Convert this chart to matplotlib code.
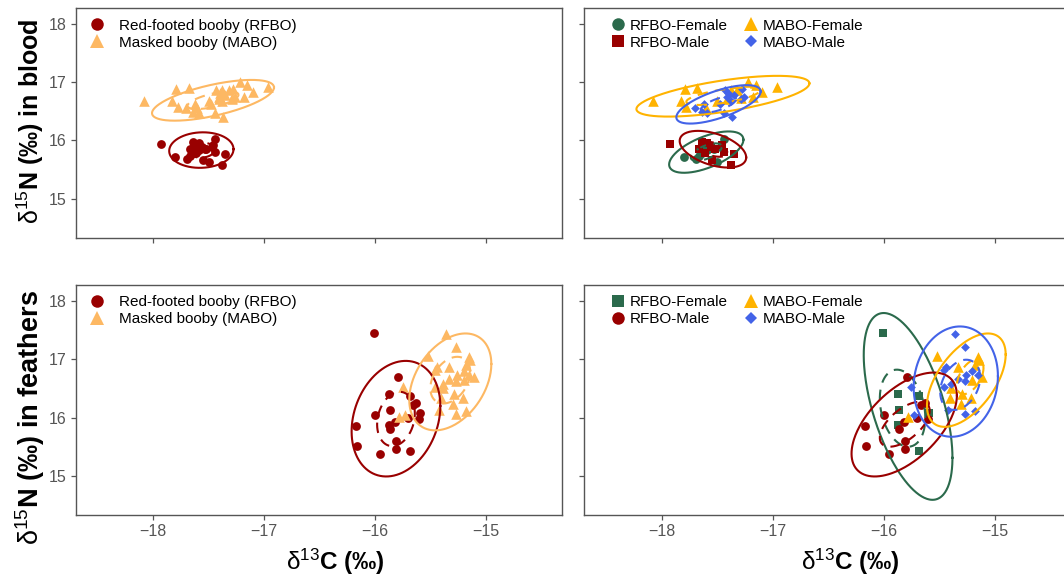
import numpy as np
import matplotlib
matplotlib.use("Agg")
import matplotlib.pyplot as plt
from matplotlib.lines import Line2D

plt.rcParams['font.family'] = ['Liberation Sans', 'DejaVu Sans']
plt.rcParams['mathtext.fontset'] = 'custom'
plt.rcParams['mathtext.rm'] = 'Liberation Sans'
plt.rcParams['mathtext.bf'] = 'Liberation Sans:bold'
plt.rcParams['mathtext.it'] = 'Liberation Sans:italic'

# ---------------- data: blood ----------------
blood_rfbo_f_x = [-17.80, -17.69, -17.67, -17.62, -17.59, -17.50, -17.47, -17.44, -17.53, -17.64]
blood_rfbo_f_y = [15.72, 15.68, 15.73, 15.90, 15.84, 15.63, 15.89, 16.03, 15.86, 15.78]
blood_rfbo_m_x = [-17.93, -17.67, -17.64, -17.59, -17.56, -17.52, -17.44, -17.35, -17.38, -17.55, -17.61, -17.46]
blood_rfbo_m_y = [15.94, 15.86, 15.98, 15.95, 15.89, 15.86, 15.81, 15.77, 15.58, 15.66, 15.78, 15.92]
blood_mabo_f_x = [-18.08, -17.83, -17.79, -17.68, -17.78, -17.50, -17.41, -17.32, -17.22, -17.15, -17.10, -16.96, -17.18, -17.29, -17.38, -17.60]
blood_mabo_f_y = [16.67, 16.67, 16.88, 16.90, 16.58, 16.68, 16.71, 16.87, 17.00, 16.96, 16.84, 16.92, 16.74, 16.73, 16.86, 16.55]
blood_mabo_m_x = [-17.70, -17.62, -17.64, -17.59, -17.48, -17.44, -17.41, -17.37, -17.38, -17.43, -17.35, -17.28, -17.29, -17.26, -17.40]
blood_mabo_m_y = [16.55, 16.62, 16.49, 16.48, 16.63, 16.47, 16.74, 16.41, 16.67, 16.87, 16.78, 16.88, 16.71, 16.74, 16.81]

# ---------------- data: feathers ----------------
feath_rfbo_f_x = [-16.01, -15.87, -15.68, -15.86, -15.59, -15.87, -15.68]
feath_rfbo_f_y = [17.44, 16.40, 16.37, 16.13, 16.07, 15.87, 15.43]
feath_rfbo_m_x = [-15.79, -16.00, -16.17, -16.16, -15.95, -15.86, -15.81, -15.81, -15.82, -15.70, -15.66, -15.63, -15.60]
feath_rfbo_m_y = [16.70, 16.04, 15.85, 15.51, 15.37, 15.81, 15.59, 15.46, 15.93, 15.99, 16.21, 16.25, 15.98]
feath_mabo_f_x = [-15.52, -15.33, -15.15, -15.14, -15.18, -15.11, -15.20, -15.39, -15.40, -15.29, -15.21, -15.30, -15.78]
feath_mabo_f_y = [17.06, 16.86, 17.03, 16.99, 16.90, 16.70, 16.64, 16.50, 16.33, 16.41, 16.33, 16.23, 16.01]
feath_mabo_m_x = [-15.36, -15.27, -15.46, -15.44, -15.33, -15.26, -15.20, -15.15, -15.27, -15.39, -15.46, -15.75, -15.73, -15.42, -15.27, -15.18]
feath_mabo_m_y = [17.43, 17.20, 16.81, 16.86, 16.66, 16.73, 16.79, 16.72, 16.63, 16.57, 16.53, 16.52, 16.05, 16.13, 16.06, 16.11]

# ---------------- ellipses (cx, cy, half-width x, half-height y, correlation) ----------------
ell_blood_species_solid = {'RFBO': (-17.565, 15.835, 0.29, 0.305, 0.05), 'MABO': (-17.46, 16.69, 0.55, 0.35, 0.63)}
ell_blood_species_dash = {'RFBO': (-17.565, 15.835, 0.12, 0.13, 0.05), 'MABO': (-17.46, 16.69, 0.23, 0.15, 0.63)}
ell_blood_sex_solid = {'RFBO-Female': (-17.60, 15.80, 0.335, 0.355, 0.60), 'RFBO-Male': (-17.54, 15.85, 0.30, 0.315, -0.45),
                       'MABO-Female': (-17.45, 16.76, 0.78, 0.35, 0.63), 'MABO-Male': (-17.49, 16.62, 0.38, 0.33, 0.67)}
ell_blood_sex_dash = {'RFBO-Female': (-17.60, 15.80, 0.14, 0.15, 0.60), 'RFBO-Male': (-17.54, 15.85, 0.13, 0.13, -0.45),
                      'MABO-Female': (-17.45, 16.76, 0.33, 0.15, 0.63), 'MABO-Male': (-17.49, 16.62, 0.16, 0.14, 0.67)}
ell_feath_species_solid = {'RFBO': (-15.81, 15.98, 0.40, 0.99, 0.22), 'MABO': (-15.32, 16.61, 0.37, 0.83, 0.37)}
ell_feath_species_dash = {'RFBO': (-15.81, 15.975, 0.17, 0.465, 0.20), 'MABO': (-15.32, 16.64, 0.18, 0.40, 0.35)}
ell_feath_sex_solid = {'RFBO-Female': (-15.78, 16.19, 0.40, 1.60, -0.55), 'RFBO-Male': (-15.815, 15.88, 0.475, 0.89, 0.56),
                       'MABO-Female': (-15.255, 16.64, 0.355, 0.80, 0.55), 'MABO-Male': (-15.35, 16.615, 0.38, 0.945, 0.10)}
ell_feath_sex_dash = {'RFBO-Female': (-15.83, 16.16, 0.205, 0.66, -0.25), 'RFBO-Male': (-15.81, 15.885, 0.225, 0.385, 0.60),
                      'MABO-Female': (-15.22, 16.70, 0.12, 0.30, 0.50), 'MABO-Male': (-15.31, 16.56, 0.18, 0.43, 0.30)}

x_ticks = [-18, -17, -16, -15]
y_ticks = [15, 16, 17, 18]
x_tick_labels = ['\u221218', '\u221217', '\u221216', '\u221215']
y_tick_labels = ['15', '16', '17', '18']
xlim = (-18.70, -14.31)
ylim = (14.33, 18.27)

# ---------------- styles ----------------
C_RED = '#990000'
C_LORANGE = '#FDB863'
C_GREEN = '#2B6A4C'
C_GOLD = '#FFB300'
C_BLUE = '#4363E8'

W, H = 1064, 577
fig = plt.figure(figsize=(W / 100, H / 100), dpi=100)


def pos(l, t, r, b):
    return [l / W, 1 - b / H, (r - l) / W, (b - t) / H]


def ellipse_xy(p):
    cx, cy, hx, hy, r = p
    t = np.linspace(0, 2 * np.pi, 300)
    return cx + hx * np.cos(t), cy + hy * (r * np.cos(t) + np.sqrt(1 - r * r) * np.sin(t))


def style_axes(ax, xlabels, ylabels):
    ax.set_xlim(*xlim)
    ax.set_ylim(*ylim)
    ax.set_xticks(x_ticks)
    ax.set_yticks(y_ticks)
    ax.set_xticklabels(x_tick_labels if xlabels else [])
    ax.set_yticklabels(y_tick_labels if ylabels else [])
    ax.tick_params(direction='out', length=3.5, width=0.9, color='#555555', labelcolor='#555555',
                   labelsize=11.5, pad=3)
    for s in ax.spines.values():
        s.set_color('#555555')
        s.set_linewidth(1.0)


MS = {'o': 40, '^': 58, 's': 34, 'D': 20}


def draw(ax, groups, ell_solid, ell_dash):
    for name, x, y, marker, color in groups:
        ax.scatter(x, y, s=MS[marker], marker=marker, color=color, linewidths=0, zorder=2)
    for name, x, y, marker, color in groups:
        ex, ey = ellipse_xy(ell_solid[name])
        ax.plot(ex, ey, color=color, lw=1.5, zorder=3)
        ex, ey = ellipse_xy(ell_dash[name])
        ax.plot(ex, ey, color=color, lw=1.5, ls=(0, (5, 3.5)), zorder=3)


# combined species data
blood_rfbo_x = blood_rfbo_f_x + blood_rfbo_m_x
blood_rfbo_y = blood_rfbo_f_y + blood_rfbo_m_y
blood_mabo_x = blood_mabo_f_x + blood_mabo_m_x
blood_mabo_y = blood_mabo_f_y + blood_mabo_m_y
feath_rfbo_x = feath_rfbo_f_x + feath_rfbo_m_x
feath_rfbo_y = feath_rfbo_f_y + feath_rfbo_m_y
feath_mabo_x = feath_mabo_f_x + feath_mabo_m_x
feath_mabo_y = feath_mabo_f_y + feath_mabo_m_y

ax1 = fig.add_axes(pos(75.5, 8.3, 562.3, 237.7))
ax2 = fig.add_axes(pos(584.3, 8.3, 1071.1, 237.7))
ax3 = fig.add_axes(pos(75.5, 285, 562.3, 515))
ax4 = fig.add_axes(pos(584.3, 285, 1071.1, 515))

draw(ax1, [('RFBO', blood_rfbo_x, blood_rfbo_y, 'o', C_RED),
           ('MABO', blood_mabo_x, blood_mabo_y, '^', C_LORANGE)],
     ell_blood_species_solid, ell_blood_species_dash)
draw(ax2, [('RFBO-Female', blood_rfbo_f_x, blood_rfbo_f_y, 'o', C_GREEN),
           ('RFBO-Male', blood_rfbo_m_x, blood_rfbo_m_y, 's', C_RED),
           ('MABO-Female', blood_mabo_f_x, blood_mabo_f_y, '^', C_GOLD),
           ('MABO-Male', blood_mabo_m_x, blood_mabo_m_y, 'D', C_BLUE)],
     ell_blood_sex_solid, ell_blood_sex_dash)
draw(ax3, [('RFBO', feath_rfbo_x, feath_rfbo_y, 'o', C_RED),
           ('MABO', feath_mabo_x, feath_mabo_y, '^', C_LORANGE)],
     ell_feath_species_solid, ell_feath_species_dash)
draw(ax4, [('RFBO-Female', feath_rfbo_f_x, feath_rfbo_f_y, 's', C_GREEN),
           ('RFBO-Male', feath_rfbo_m_x, feath_rfbo_m_y, 'o', C_RED),
           ('MABO-Female', feath_mabo_f_x, feath_mabo_f_y, '^', C_GOLD),
           ('MABO-Male', feath_mabo_m_x, feath_mabo_m_y, 'D', C_BLUE)],
     ell_feath_sex_solid, ell_feath_sex_dash)

style_axes(ax1, False, True)
style_axes(ax2, False, False)
style_axes(ax3, True, True)
style_axes(ax4, True, False)


def h(marker, color, ms):
    return Line2D([], [], ls='none', marker=marker, color=color, markersize=ms, markeredgewidth=0)


leg_common = dict(frameon=False, fontsize=11, handlelength=1.0, labelspacing=0.2,
                  borderpad=0.0, borderaxespad=0.0, loc='upper left')

species_handles = [h('o', C_RED, 9), h('^', C_LORANGE, 10.5)]
species_labels = ['Red-footed booby (RFBO)', 'Masked booby (MABO)']
ax1.legend(species_handles, species_labels, bbox_to_anchor=(0.029, 0.955), handletextpad=0.9, **leg_common)
ax3.legend(species_handles, species_labels, bbox_to_anchor=(0.029, 0.955), handletextpad=0.9, **leg_common)

ax2.legend([h('o', C_GREEN, 9), h('s', C_RED, 8.5), h('^', C_GOLD, 10.5), h('D', C_BLUE, 6.5)],
           ['RFBO-Female', 'RFBO-Male', 'MABO-Female', 'MABO-Male'], ncol=2, columnspacing=1.05,
           handletextpad=0.25, bbox_to_anchor=(0.054, 0.955), **leg_common)
ax4.legend([h('s', C_GREEN, 8.5), h('o', C_RED, 9), h('^', C_GOLD, 10.5), h('D', C_BLUE, 6.5)],
           ['RFBO-Female', 'RFBO-Male', 'MABO-Female', 'MABO-Male'], ncol=2, columnspacing=1.05,
           handletextpad=0.25, bbox_to_anchor=(0.054, 0.955), **leg_common)

ylab_blood = r'$\mathrm{\delta}^{15}$N (‰) in blood'
ylab_feath = r'$\mathrm{\delta}^{15}$N (‰) in feathers'
xlab = r'$\mathrm{\delta}^{13}$C (‰)'

fig.text(30 / W, 1 - 121 / H, ylab_blood, rotation=90, ha='center', va='center', fontsize=18, fontweight='bold')
fig.text(30 / W, 1 - 417 / H, ylab_feath, rotation=90, ha='center', va='center', fontsize=19.5, fontweight='bold')
fig.text(335 / W, 1 - 562 / H, xlab, ha='center', va='center', fontsize=17.5, fontweight='bold')
fig.text(850 / W, 1 - 562 / H, xlab, ha='center', va='center', fontsize=17.5, fontweight='bold')

fig.savefig('out.png', dpi=100)
